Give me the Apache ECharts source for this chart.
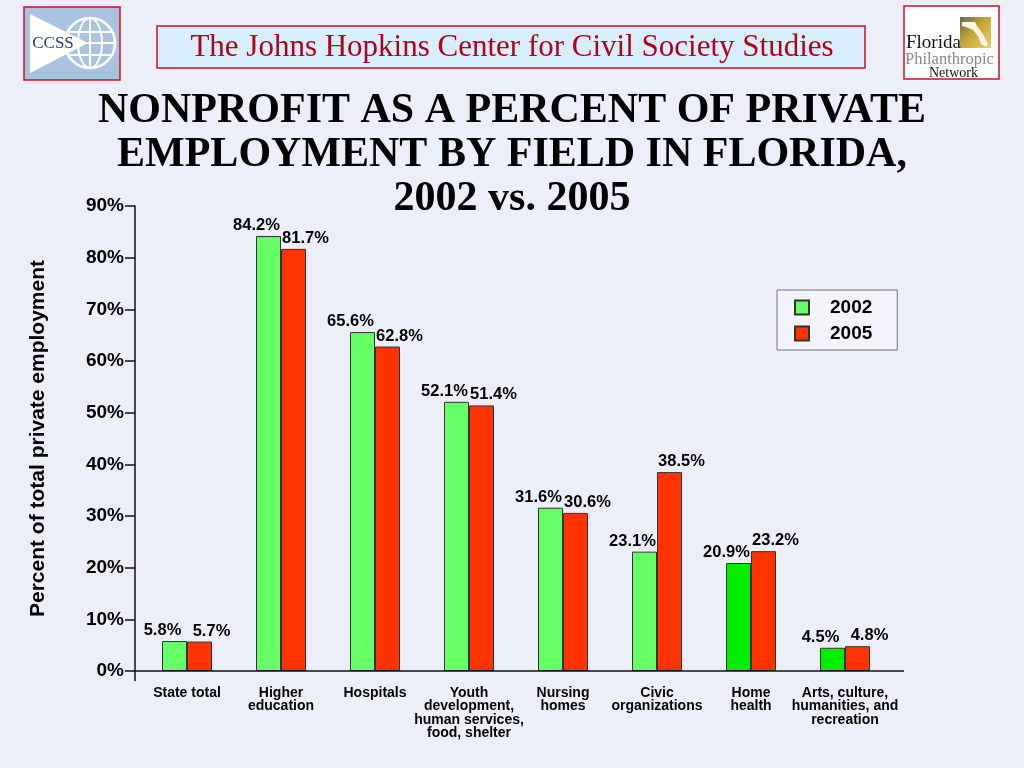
<!DOCTYPE html>
<html>
<head>
<meta charset="utf-8">
<script src="https://cdn.jsdelivr.net/npm/echarts@6/dist/echarts.min.js"></script>
<style>
html,body{margin:0;padding:0;background:#eceff9;}
#c{width:1024px;height:768px;}
</style>
</head>
<body>
<div id="c"></div>
<script>
var categories = ['State total', 'Higher\neducation', 'Hospitals', 'Youth\ndevelopment,\nhuman services,\nfood, shelter', 'Nursing\nhomes', 'Civic\norganizations', 'Home\nhealth', 'Arts, culture,\nhumanities, and\nrecreation'];
var values2002 = [5.8, 84.2, 65.6, 52.1, 31.6, 23.1, 20.9, 4.5];
var values2005 = [5.7, 81.7, 62.8, 51.4, 30.6, 38.5, 23.2, 4.8];
var seriesNames = ['2002', '2005'];
var yTicks = [0, 10, 20, 30, 40, 50, 60, 70, 80, 90];

var chart = echarts.init(document.getElementById('c'));
var gridTop = 206, gridBottom = 97, gridLeft = 140, gridRight = 132;

var data2002 = values2002.map(function (v, i) {
  return i >= 6 ? { value: v, itemStyle: { color: '#00ee00' } } : v;
});

var labelStyle = {
  show: true,
  position: 'top',
  distance: 2,
  formatter: function (p) { return p.value + '%'; },
  fontFamily: 'Liberation Sans',
  fontWeight: 'bold',
  fontSize: 16.5,
  color: '#000'
};

var option = {
  backgroundColor: '#eceff9',
  animation: false,
  legend: {
    data: seriesNames,
    orient: 'vertical',
    left: 777,
    top: 290,
    padding: [8, 25, 7, 17],
    itemGap: 7,
    itemWidth: 14,
    itemHeight: 14,
    backgroundColor: '#f2f3fb',
    borderColor: '#777',
    borderWidth: 1,
    icon: 'rect',
    textStyle: {
      fontFamily: 'Liberation Sans',
      fontWeight: 'bold',
      fontSize: 19,
      color: '#000',
      padding: [0, 0, 0, 16]
    }
  },
  grid: { left: gridLeft, right: gridRight, top: gridTop, bottom: gridBottom },
  xAxis: {
    type: 'category',
    data: categories,
    axisLine: { show: false },
    axisTick: { show: false },
    axisLabel: {
      interval: 0,
      margin: 15,
      fontFamily: 'Liberation Sans',
      fontWeight: 'bold',
      fontSize: 14,
      lineHeight: 13.5,
      color: '#000'
    }
  },
  yAxis: {
    type: 'value',
    min: yTicks[0],
    max: yTicks[yTicks.length - 1],
    interval: 10,
    offset: 5,
    name: 'Percent of total private employment',
    nameLocation: 'middle',
    nameGap: 86,
    nameRotate: 90,
    nameTextStyle: {
      fontFamily: 'Liberation Sans',
      fontWeight: 'bold',
      fontSize: 21,
      color: '#000'
    },
    axisLine: { show: true, lineStyle: { color: '#111', width: 1.5 } },
    axisTick: { show: true, length: 10, lineStyle: { color: '#111', width: 1.5 } },
    splitLine: { show: false },
    axisLabel: {
      margin: 11,
      formatter: function (v) { return v + '%'; },
      fontFamily: 'Liberation Sans',
      fontWeight: 'bold',
      fontSize: 19,
      color: '#000'
    }
  },
  series: [
    {
      name: seriesNames[0],
      type: 'bar',
      data: data2002,
      barWidth: 25,
      barGap: '0%',
      itemStyle: { color: '#66ff66', borderColor: '#333', borderWidth: 1 },
      label: Object.assign({}, labelStyle, { offset: [-12, 0] })
    },
    {
      name: seriesNames[1],
      type: 'bar',
      data: values2005,
      barWidth: 25,
      barGap: '0%',
      itemStyle: { color: '#ff3300', borderColor: '#333', borderWidth: 1 },
      label: Object.assign({}, labelStyle, { offset: [12, 0] })
    }
  ],
  graphic: [
    // title
    { type: 'text', x: 512, y: 89, style: { text: 'NONPROFIT AS A PERCENT OF PRIVATE\nEMPLOYMENT BY FIELD IN FLORIDA,\n2002 vs. 2005', font: 'bold 42px "Liberation Serif"', lineHeight: 44, fill: '#000', textAlign: 'center', textVerticalAlign: 'top' } },
    // x axis line
    { type: 'line', shape: { x1: 135, y1: 768 - gridBottom, x2: 904, y2: 768 - gridBottom }, style: { stroke: '#111', lineWidth: 1.5 }, z: 10 },
    { type: 'line', shape: { x1: 135, y1: 768 - gridBottom, x2: 135, y2: 768 - gridBottom + 10 }, style: { stroke: '#111', lineWidth: 1.5 }, z: 10 },
    // banner
    { type: 'rect', shape: { x: 157, y: 26, width: 708, height: 42 }, style: { fill: '#d8eefb', stroke: '#cc1122', lineWidth: 1.5 } },
    { type: 'text', x: 512, y: 48, style: { text: 'The Johns Hopkins Center for Civil Society Studies', font: '31px "Liberation Serif"', fill: '#b0001a', textAlign: 'center', textVerticalAlign: 'middle' } },
    // CCSS logo
    { type: 'rect', shape: { x: 24, y: 7, width: 96, height: 73 }, style: { fill: '#a9c3df', stroke: '#cc1122', lineWidth: 1.5 } },
    { type: 'circle', shape: { cx: 90, cy: 43, r: 25 }, style: { fill: 'none', stroke: '#fff', lineWidth: 2.5 } },
    { type: 'ellipse', shape: { cx: 90, cy: 43, rx: 12, ry: 25 }, style: { fill: 'none', stroke: '#fff', lineWidth: 2 } },
    { type: 'line', shape: { x1: 90, y1: 18, x2: 90, y2: 68 }, style: { stroke: '#fff', lineWidth: 2 } },
    { type: 'line', shape: { x1: 68, y1: 32, x2: 112, y2: 32 }, style: { stroke: '#fff', lineWidth: 2 } },
    { type: 'line', shape: { x1: 65, y1: 43, x2: 115, y2: 43 }, style: { stroke: '#fff', lineWidth: 2 } },
    { type: 'line', shape: { x1: 68, y1: 55, x2: 112, y2: 55 }, style: { stroke: '#fff', lineWidth: 2 } },
    { type: 'polygon', shape: { points: [[30, 14], [30, 73], [88, 43]] }, style: { fill: '#ffffff' } },
    { type: 'text', x: 53, y: 44, style: { text: 'CCSS', font: '17px "Liberation Serif"', fill: '#2b3c6e', textAlign: 'center', textVerticalAlign: 'middle' } },
    // Florida Philanthropic Network logo
    { type: 'rect', shape: { x: 904, y: 6, width: 95, height: 73 }, style: { fill: '#ffffff', stroke: '#cc1122', lineWidth: 1.5 } },
    { type: 'rect', shape: { x: 960, y: 17, width: 31, height: 31 }, style: { fill: new echarts.graphic.LinearGradient(0, 0, 1, 1, [{ offset: 0, color: '#6b6a3a' }, { offset: 0.5, color: '#c9a93a' }, { offset: 1, color: '#e8cf6a' }]) } },
    { type: 'polygon', shape: { points: [[962, 22], [975, 22], [977, 26], [983, 34], [988, 44], [986, 47], [981, 44], [978, 36], [973, 30], [966, 27], [962, 26]] }, style: { fill: '#fbf6e2' } },
    { type: 'text', x: 906, y: 43, style: { text: 'Florida', font: '19px "Liberation Serif"', fill: '#111', textVerticalAlign: 'middle' } },
    { type: 'text', x: 905, y: 60, style: { text: 'Philanthropic', font: '16.5px "Liberation Serif"', fill: '#888', textVerticalAlign: 'middle' } },
    { type: 'text', x: 929, y: 73, style: { text: 'Network', font: '14px "Liberation Serif"', fill: '#111', textVerticalAlign: 'middle' } }
  ]
};
chart.setOption(option);
</script>
</body>
</html>
